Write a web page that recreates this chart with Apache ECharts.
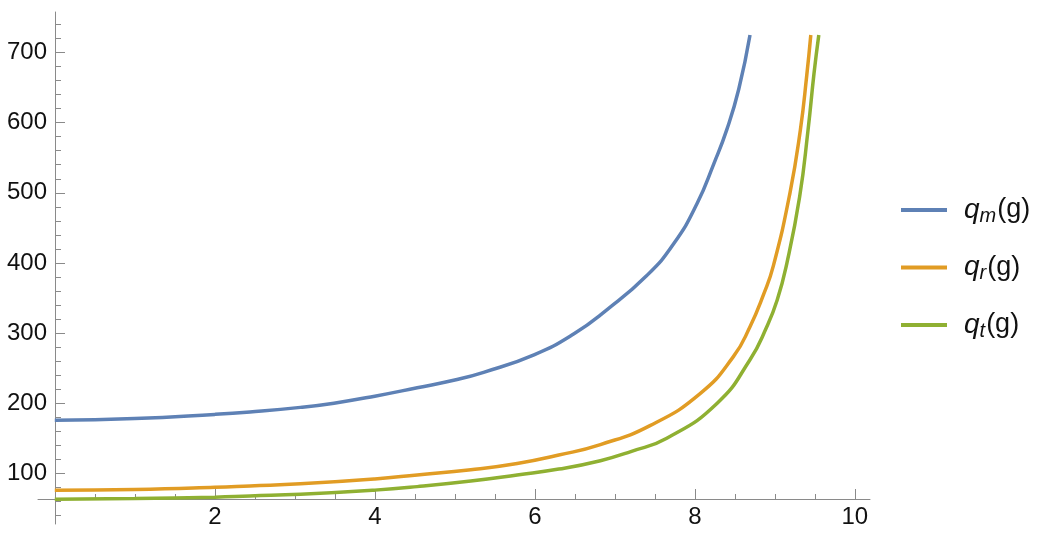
<!DOCTYPE html>
<html>
<head>
<meta charset="utf-8">
<script src="https://cdn.jsdelivr.net/npm/echarts@6/dist/echarts.min.js"></script>
<style>
html,body{margin:0;padding:0;background:#fff;}
#chart{width:1046px;height:543px;}
</style>
</head>
<body>
<div id="chart"></div>
<script>
// ---- data ----
const qmX = [0, 1, 2, 2.44, 3.07, 3.49, 4.0, 4.53, 5.0, 5.36, 5.99, 6.49, 6.9, 7.4, 7.74, 8.03, 8.24, 8.4, 8.55, 8.69];
const qmY = [175.5, 178, 184, 187.5, 194, 200, 210, 222, 233, 244, 269, 299, 333, 382, 428, 485, 542, 590, 648, 725];

const qrX = [0, 1, 2, 2.44, 3.07, 4.0, 4.53, 5.2, 5.78, 6.3, 6.82, 7.44, 8.07, 8.48, 8.69, 8.86, 8.98, 9.19, 9.32, 9.40, 9.45];
const qrY = [75.8, 77, 80, 82, 85, 92, 97.6, 105, 114, 126, 141, 168, 214, 266, 309, 355, 395, 500, 590, 668, 725];

const qtX = [0, 1, 2, 2.44, 3.07, 4.0, 4.53, 5.2, 5.78, 6.3, 6.82, 7.2, 7.65, 8.28, 8.69, 8.9, 9.03, 9.15, 9.31, 9.415, 9.49, 9.55];
const qtY = [63, 64, 66, 67.7, 70, 76, 81, 89, 97.6, 106, 118, 131, 150, 200, 262, 309, 347, 399, 494, 589, 670, 725];

const xMajorTicks = [2, 4, 6, 8, 10];
const xMinorTicks = [0.5, 1, 1.5, 2.5, 3, 3.5, 4.5, 5, 5.5, 6.5, 7, 7.5, 8.5, 9, 9.5];
const yMajorTicks = [100, 200, 300, 400, 500, 600, 700];
const yMinorTicks = [40, 60, 80, 120, 140, 160, 180, 220, 240, 260, 280, 320, 340, 360, 380, 420, 440, 460, 480, 520, 540, 560, 580, 620, 640, 660, 680, 720, 740];

const seriesNames = ['qm', 'qr', 'qt'];
const seriesSubs = ['m', 'r', 't'];
const colors = ['#5E81B5', '#E19C24', '#8FB032'];

function pairs(xs, ys) { return xs.map((x, i) => [x, ys[i]]); }

const FONT = '"Liberation Sans", Arial, sans-serif';
const axisColor = '#8a8a8a';
const X_MIN = -0.21, X_MAX = 10.19, Y_MIN = 27.7, Y_MAX = 757.8;

const chart = echarts.init(document.getElementById('chart'), null, {renderer: 'canvas'});

const xBase = {
  type: 'value', min: X_MIN, max: X_MAX, position: 'bottom', offset: -25,
  splitLine: {show: false},
  axisLine: {onZero: false, lineStyle: {color: axisColor, width: 1}}
};
const yBase = {
  type: 'value', min: Y_MIN, max: Y_MAX, position: 'left', offset: -17,
  splitLine: {show: false},
  axisLine: {onZero: false, lineStyle: {color: axisColor, width: 1}}
};

chart.setOption({
  animation: false,
  backgroundColor: '#ffffff',
  grid: {left: 38, right: 176, top: 12, bottom: 19, containLabel: false, outerBoundsMode: 'none'},
  xAxis: [
    Object.assign({}, xBase, {
      axisTick: {show: true, inside: true, length: 10, customValues: xMajorTicks, lineStyle: {color: axisColor}},
      axisLabel: {show: true, customValues: xMajorTicks, margin: 6, color: '#111', fontSize: 24, fontFamily: FONT}
    }),
    Object.assign({}, xBase, {
      axisLine: {show: false, onZero: false},
      axisTick: {show: true, inside: true, length: 5, customValues: xMinorTicks, lineStyle: {color: axisColor}},
      axisLabel: {show: false}
    })
  ],
  yAxis: [
    Object.assign({}, yBase, {
      axisTick: {show: true, inside: true, length: 10, customValues: yMajorTicks, lineStyle: {color: axisColor}},
      axisLabel: {show: true, customValues: yMajorTicks, margin: 8, color: '#111', fontSize: 24, fontFamily: FONT}
    }),
    Object.assign({}, yBase, {
      axisLine: {show: false, onZero: false},
      axisTick: {show: true, inside: true, length: 6, customValues: yMinorTicks, lineStyle: {color: axisColor}},
      axisLabel: {show: false}
    })
  ],
  legend: {
    orient: 'vertical', left: 896, top: 191,
    icon: 'rect', itemWidth: 46, itemHeight: 4, itemGap: 25.5,
    data: seriesNames,
    formatter: function (name) {
      const i = seriesNames.indexOf(name);
      return '{q|q}{s|' + seriesSubs[i] + '}{p|(g)}';
    },
    textStyle: {
      fontFamily: FONT, fontSize: 27, color: '#111',
      rich: {
        q: {fontStyle: 'italic', fontSize: 28, fontFamily: FONT, color: '#111', lineHeight: 36, padding: [0, 0, 0, 12]},
        s: {fontStyle: 'italic', fontSize: 20, fontFamily: FONT, color: '#111', lineHeight: 20, verticalAlign: 'bottom', padding: [0, 1, 2, 0]},
        p: {fontSize: 27, fontFamily: FONT, color: '#111', lineHeight: 36}
      }
    }
  },
  series: [
    {name: 'qm', type: 'line', data: pairs(qmX, qmY)},
    {name: 'qr', type: 'line', data: pairs(qrX, qrY)},
    {name: 'qt', type: 'line', data: pairs(qtX, qtY)}
  ].map((s, i) => Object.assign(s, {
    xAxisIndex: 0, yAxisIndex: 0, smooth: 0.5, showSymbol: false, symbol: 'none',
    color: colors[i], lineStyle: {color: colors[i], width: 3.5}, clip: true
  }))
});
</script>
</body>
</html>
